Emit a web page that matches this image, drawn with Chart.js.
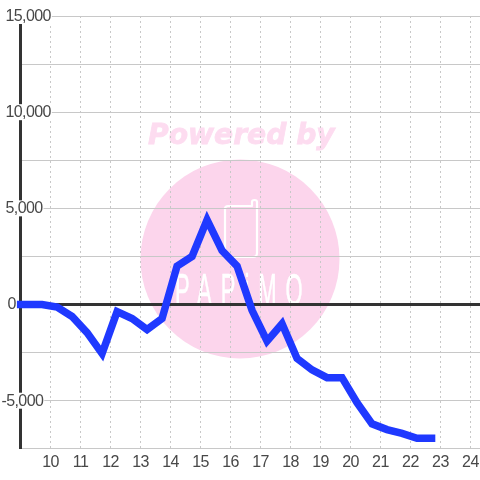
<!DOCTYPE html>
<html><head><meta charset="utf-8">
<style>html,body{margin:0;padding:0;background:#fff}canvas{display:block}</style>
<script src="https://cdn.jsdelivr.net/npm/chart.js@4"></script>
</head><body>
<canvas id="c" width="480" height="480"></canvas>
<script>
const hours = [8.88,9.22,9.72,10.22,10.72,11.22,11.72,12.22,12.72,13.22,13.72,14.22,14.72,15.22,15.72,16.22,16.72,17.22,17.72,18.22,18.72,19.22,19.72,20.22,20.72,21.22,21.72,22.22,22.83];
const values = [0,0,0,-130,-620,-1460,-2550,-370,-730,-1300,-730,2000,2500,4400,2800,2000,-300,-1900,-1000,-2800,-3400,-3800,-3800,-5100,-6200,-6500,-6700,-6950,-6950];
const yLabels = {15000:'15,000',10000:'10,000',5000:'5,000',0:'0','-5000':'-5,000'};
const yLabelLeft = {15000:6,10000:6,5000:6,0:8,'-5000':2};
const LABEL = '#484848', GRID = '#c8c8c8', AXIS = '#333333', PINK = '#fcd5ec';
const FONT = '16px "Liberation Sans"';
const TIGHT = '-0.6px';

const watermark = {
  id:'watermark',
  beforeDraw(chart){
    const c = chart.ctx; c.save();
    c.fillStyle = '#ffffff'; c.fillRect(0,0,480,480);
    c.fillStyle = '#fddcf0'; c.strokeStyle='#fddcf0'; c.lineWidth=0.8;
    c.font = 'italic bold 28.2px "DejaVu Sans"';
    c.textAlign='left'; c.textBaseline='alphabetic';
    c.fillText('Powered by',148,144);
    c.strokeText('Powered by',148,144);
    c.fillStyle = PINK;
    c.beginPath(); c.arc(240,259,99.5,0,Math.PI*2); c.fill();
    c.strokeStyle='#fff'; c.lineWidth=2.2; c.lineJoin='round'; c.lineCap='round';
    c.beginPath();
    c.moveTo(252,206); c.lineTo(228,206); c.quadraticCurveTo(225,206,225,209);
    c.lineTo(225,253); c.quadraticCurveTo(225,257,229,257);
    c.lineTo(253,257); c.quadraticCurveTo(257,257,257,253);
    c.lineTo(257,202); c.quadraticCurveTo(257,200,254.5,200); c.quadraticCurveTo(252,200,252,202); c.lineTo(252,206);
    c.stroke();
    c.fillStyle='#fff'; c.strokeStyle='#fff'; c.lineWidth=0.6;
    c.translate(175,305); c.scale(0.5,1);
    c.font='44px "Liberation Sans"';
    c.letterSpacing='18px';
    c.fillText('PAPiMO',0,0);
    c.strokeText('PAPiMO',0,0);
    c.restore();
    c.letterSpacing = TIGHT;
  }
};
const yLabelsPlugin = {
  id:'yLabelsPlugin',
  beforeDatasetsDraw(chart){
    const c = chart.ctx, s = chart.scales.y; c.save();
    c.font = FONT; c.letterSpacing = TIGHT; c.textBaseline='middle'; c.textAlign='left';
    for(const t of s.ticks){
      const txt = yLabels[t.value]; if(!txt) continue;
      const y = s.getPixelForValue(t.value), x = yLabelLeft[t.value], w = c.measureText(txt).width;
      c.fillStyle='#fff'; c.fillRect(x-1,y-8,w+1.5,16);
      c.fillStyle=LABEL; c.fillText(txt,x-0.5,y+0.5);
    }
    c.restore();
  }
};
new Chart(document.getElementById('c'),{
  type:'line',
  data:{datasets:[{
    data:hours.map((h,i)=>({x:h,y:values[i]})),
    borderColor:'#1f39ff',borderWidth:7.5,pointRadius:0,tension:0,fill:false,clip:false,
    borderCapStyle:'butt',borderJoinStyle:'miter'
  }]},
  plugins:[watermark,yLabelsPlugin],
  options:{
    responsive:false,animation:false,devicePixelRatio:1,
    layout:{padding:{left:20.5,right:0,top:16,bottom:4}},
    plugins:{legend:{display:false},tooltip:{enabled:false},title:{display:false}},
    scales:{
      x:{type:'linear',min:9,max:24.32,
        afterFit:s=>{s.paddingRight=0;s.paddingLeft=0;},
        ticks:{stepSize:1,includeBounds:false,autoSkip:false,maxRotation:0,padding:4,color:LABEL,font:{family:'Liberation Sans',size:16},
          callback:v=>v===9?'':String(v)},
        grid:{color:GRID,lineWidth:1,drawTicks:false,tickLength:0},
        border:{display:true,color:GRID,width:1,dash:[2,3]}
      },
      y:{type:'linear',min:-7500,max:15000,
        ticks:{stepSize:2500,display:false},
        grid:{color:ctx=>ctx.tick.value===0?AXIS:GRID,lineWidth:ctx=>ctx.tick.value===0?3:1,drawTicks:false},
        border:{display:true,color:AXIS,width:3}
      }
    }
  }
});
</script>
</body></html>
